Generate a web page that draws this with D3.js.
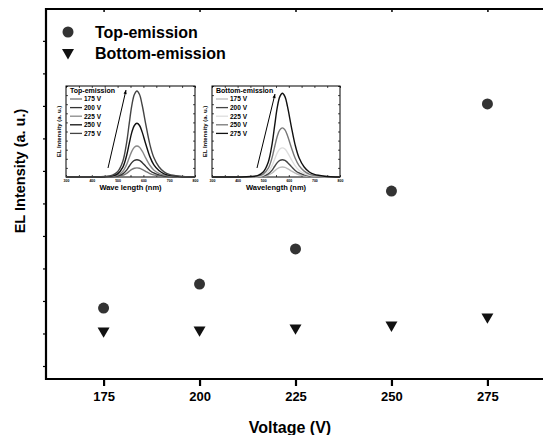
<!DOCTYPE html>
<html><head><meta charset="utf-8">
<script src="https://cdn.jsdelivr.net/npm/d3@7"></script>
<style>body{margin:0;background:#fff}svg{display:block}text{font-family:"Liberation Sans",Arial,sans-serif;font-weight:bold}</style>
</head><body>
<script>
// Main chart data
const voltages = [175, 200, 225, 250, 275];
const topEmission = [1.78, 2.52, 3.6, 5.38, 8.06];
const bottomEmission = [1.08, 1.11, 1.17, 1.26, 1.51];
const xTicks = [175, 200, 225, 250, 275];
const yMinorTicks = [0,1,2,3,4,5,6,7,8,9,10];

// Inset spectra data
const wavelengths = [300,450,480,500,520,535,545,555,565,575,585,595,610,625,640,660,680,700,740,800];
const insetXTicks = [300,400,500,600,700,800];
const specLabels = ["175 V","200 V","225 V","250 V","275 V"];
const topSpectra = [
  [0,0.05,0.2,0.6,1.8,4,6.2,8.3,9.6,10,9.6,8.4,6,3.8,2.3,1.2,0.6,0.3,0.1,0],
  [0,0.1,0.4,1.1,3.4,7.6,11.8,15.8,18.2,19,18.2,16.0,11.4,7.2,4.4,2.3,1.1,0.6,0.2,0],
  [0,0.2,0.7,2.0,6.1,13.6,21.1,28.2,32.6,34,32.6,28.6,20.4,12.9,7.8,4.1,2.0,1.0,0.3,0],
  [0,0.3,1.2,3.5,10.6,23.6,36.6,49.0,56.6,59,56.6,49.6,35.4,22.4,13.6,7.1,3.5,1.8,0.6,0],
  [0,0.5,1.9,5.7,17.0,37.8,58.6,78.4,90.7,94.5,90.7,79.4,56.7,35.9,21.7,11.3,5.7,2.8,0.9,0]
];
const bottomSpectra = [
  [0,0.1,0.2,0.7,2.0,4.4,6.8,9.1,10.6,11,10.6,9.2,6.6,4.2,2.5,1.3,0.7,0.3,0.1,0],
  [0,0.1,0.4,1.1,3.4,7.6,11.8,15.8,18.2,19,18.2,16.0,11.4,7.2,4.4,2.3,1.1,0.6,0.2,0],
  [0,0.2,0.6,1.9,5.8,12.8,19.8,26.6,30.7,32,30.7,26.9,19.2,12.2,7.4,3.8,1.9,1.0,0.3,0],
  [0,0.3,1.1,3.2,9.7,21.6,33.5,44.8,51.8,54,51.8,45.4,32.4,20.5,12.4,6.5,3.2,1.6,0.5,0],
  [0,0.5,1.8,5.5,16.6,36.8,57.0,76.4,88.3,92,88.3,77.3,55.2,35.0,21.2,11.0,5.5,2.8,0.9,0]
];
const topColors = ["#777","#333","#888","#111","#444"];
const bottomColors = ["#bbb","#444","#ddd","#777","#111"];

const W = 543, H = 435;
const svg = d3.select("body").append("svg").attr("width", W).attr("height", H);

const L = 46, T = 9, B = 379, R = 545;
const x = d3.scaleLinear().domain([160, 290]).range([L, R]);
const y = d3.scaleLinear().domain([-0.4, 10.98]).range([B, T]);

// frame
svg.append("path").attr("d", `M${R},${T}H${L}V${B}H${R}`).attr("fill","none").attr("stroke","#000").attr("stroke-width",2.2);

// x axis
const xAxis = d3.axisBottom(x).tickValues(xTicks).tickSize(7).tickPadding(6);
const gx = svg.append("g").attr("transform", `translate(0,${B})`).call(xAxis);
gx.select(".domain").remove();
gx.selectAll("line").attr("stroke-width", 2.2);
gx.selectAll("text").attr("font-size", 13).attr("font-family", "Liberation Sans, Arial").attr("font-weight","bold").attr("fill","#000");

// top ticks
const gt = svg.append("g").attr("transform", `translate(0,${T})`).call(d3.axisBottom(x).tickValues(xTicks).tickSize(3).tickFormat(""));
gt.select(".domain").remove();
gt.selectAll("line").attr("stroke-width", 1.5);

// left minor ticks
const gy = svg.append("g").attr("transform", `translate(${L},0)`).call(d3.axisLeft(y).tickValues(yMinorTicks).tickSize(3).tickFormat(""));
gy.select(".domain").remove();
gy.selectAll("line").attr("stroke-width", 1.2);

// axis titles
svg.append("text").attr("x", 290).attr("y", 433).attr("text-anchor","middle").attr("font-size",16).text("Voltage (V)");
svg.append("text").attr("transform","translate(25,171) rotate(-90)").attr("text-anchor","middle").attr("font-size",14.5).text("EL Intensity (a. u.)");

// markers
svg.selectAll("circle.top").data(voltages).join("circle").attr("class","top")
  .attr("cx", d => x(d)).attr("cy", (d,i) => y(topEmission[i])).attr("r", 5.5).attr("fill", "#333");
const tri = d3.symbol().type(d3.symbolTriangle).size(62);
svg.selectAll("path.bot").data(voltages).join("path").attr("class","bot")
  .attr("d", tri).attr("transform", (d,i) => `translate(${x(d)},${y(bottomEmission[i])}) rotate(180)`).attr("fill","#111");

// legend
svg.append("circle").attr("cx", 68).attr("cy", 32).attr("r", 5.5).attr("fill", "#333");
svg.append("path").attr("d", tri).attr("transform","translate(68,52.5) rotate(180)").attr("fill","#111");
svg.append("text").attr("x", 95).attr("y", 37.5).attr("font-size",16).text("Top-emission");
svg.append("text").attr("x", 95).attr("y", 58.5).attr("font-size",16).text("Bottom-emission");

// insets
function inset(x0, x1, title, xTitle, spectra, colors, arrow) {
  const it = 86, ib = 177;
  const ix = d3.scaleLinear().domain([300, 800]).range([x0, x1]);
  const iy = d3.scaleLinear().domain([0, 100]).range([ib, it]);
  const g = svg.append("g");
  g.append("rect").attr("x", x0).attr("y", it).attr("width", x1 - x0).attr("height", ib - it).attr("fill","#fff").attr("stroke","#000").attr("stroke-width",1);
  const minorX = d3.range(300, 801, 50);
  const minorY = d3.range(0, 101, 10);
  const ax1 = g.append("g").attr("transform",`translate(0,${ib})`).call(d3.axisTop(ix).tickValues(minorX).tickSize(2).tickFormat(""));
  const ax2 = g.append("g").attr("transform",`translate(0,${it})`).call(d3.axisBottom(ix).tickValues(minorX).tickSize(2).tickFormat(""));
  const ay1 = g.append("g").attr("transform",`translate(${x0},0)`).call(d3.axisRight(iy).tickValues(minorY).tickSize(2).tickFormat(""));
  const ay2 = g.append("g").attr("transform",`translate(${x1},0)`).call(d3.axisLeft(iy).tickValues(minorY).tickSize(2).tickFormat(""));
  [ax1,ax2,ay1,ay2].forEach(a => { a.select(".domain").remove(); a.selectAll("line").attr("stroke-width",0.7); });
  const lab = g.append("g").attr("transform",`translate(0,${ib})`).call(d3.axisBottom(ix).tickValues(insetXTicks).tickSize(0).tickPadding(3));
  lab.select(".domain").remove();
  lab.selectAll("text").attr("font-size",3.5).attr("fill","#000").attr("font-family","Liberation Sans, Arial");
  const line = d3.line().x((d,i) => ix(wavelengths[i])).y(d => iy(d)).curve(d3.curveCatmullRom.alpha(0.5));
  spectra.forEach((s, k) => {
    g.append("path").attr("d", line(s)).attr("fill","none").attr("stroke", colors[k]).attr("stroke-width", 1.4);
  });
  // arrow
  g.append("line").attr("x1", arrow[0]).attr("y1", arrow[1]).attr("x2", arrow[2]).attr("y2", arrow[3]).attr("stroke","#000").attr("stroke-width",1);
  const ang = Math.atan2(arrow[3]-arrow[1], arrow[2]-arrow[0]) * 180 / Math.PI;
  g.append("path").attr("d","M0,0L-4,-1.6L-4,1.6Z").attr("transform",`translate(${arrow[2]},${arrow[3]}) rotate(${ang})`).attr("fill","#000");
  // legend
  g.append("text").attr("x", x0 + 4).attr("y", it + 7).attr("font-size",7).text(title);
  specLabels.forEach((t, k) => {
    const yy = it + 13 + k * 8.6;
    g.append("line").attr("x1", x0 + 4).attr("x2", x0 + 16).attr("y1", yy).attr("y2", yy).attr("stroke", colors[k]).attr("stroke-width",1.3);
    g.append("text").attr("x", x0 + 18).attr("y", yy + 2.3).attr("font-size",6.5).text(t);
  });
  g.append("text").attr("x", (x0 + x1) / 2).attr("y", 190).attr("text-anchor","middle").attr("font-size",7.5).text(xTitle);
  g.append("text").attr("transform",`translate(${x0 - 5},${(it+ib)/2}) rotate(-90)`).attr("text-anchor","middle").attr("font-size",6).text("EL Intensity (a. u.)");
}
inset(66, 195, "Top-emission", "Wave length (nm)", topSpectra, topColors, [108, 168, 126, 90]);
inset(212, 340, "Bottom-emission", "Wavelength (nm)", bottomSpectra, bottomColors, [257, 168, 275, 94]);
</script>
</body></html>
